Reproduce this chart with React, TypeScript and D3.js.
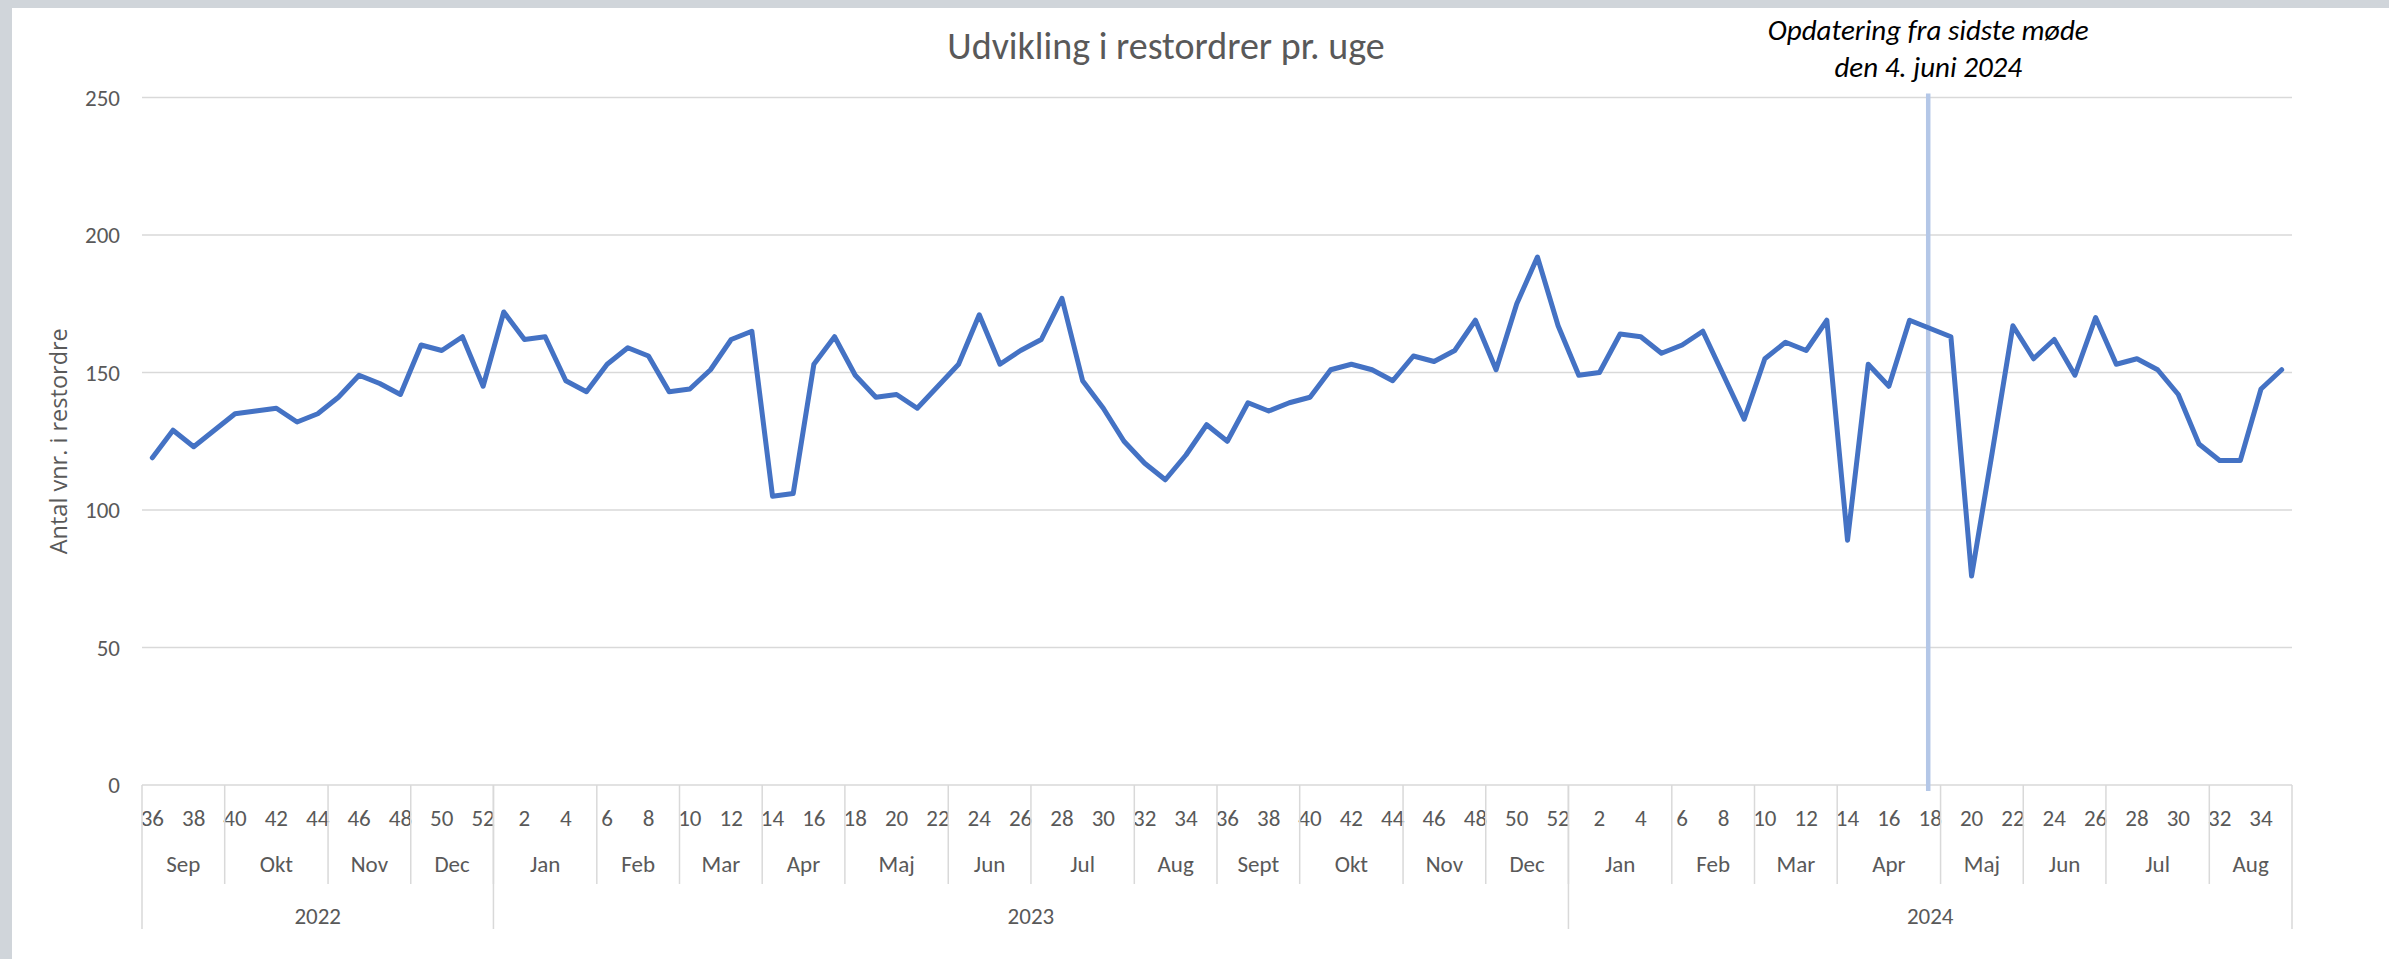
import * as d3 from 'd3'
import React, {useEffect, useRef} from 'react'

// weekly data, week 36 2022 -> week 35 2024
const yearLabels = ['2022', '2023', '2024']
const yearWeekCounts = [17, 52, 35]

const monthLabels = ['Sep', 'Okt', 'Nov', 'Dec',
    'Jan', 'Feb', 'Mar', 'Apr', 'Maj', 'Jun', 'Jul', 'Aug', 'Sept', 'Okt', 'Nov', 'Dec',
    'Jan', 'Feb', 'Mar', 'Apr', 'Maj', 'Jun', 'Jul', 'Aug']
const monthWeekCounts = [4, 5, 4, 4,
    5, 4, 4, 4, 5, 4, 5, 4, 4, 5, 4, 4,
    5, 4, 4, 5, 4, 4, 5, 4]

const weekNumbers = [
    36, 37, 38, 39, 40, 41, 42, 43, 44, 45, 46, 47, 48, 49, 50, 51, 52,
    1, 2, 3, 4, 5, 6, 7, 8, 9, 10, 11, 12, 13, 14, 15, 16, 17, 18, 19, 20, 21, 22, 23, 24, 25, 26,
    27, 28, 29, 30, 31, 32, 33, 34, 35, 36, 37, 38, 39, 40, 41, 42, 43, 44, 45, 46, 47, 48, 49, 50, 51, 52,
    1, 2, 3, 4, 5, 6, 7, 8, 9, 10, 11, 12, 13, 14, 15, 16, 17, 18, 19, 20, 21, 22, 23, 24, 25, 26,
    27, 28, 29, 30, 31, 32, 33, 34, 35]

const restordrer = [
    119, 129, 123, 129, 135, 136, 137, 132, 135, 141, 149, 146, 142, 160, 158, 163, 145,
    172, 162, 163, 147, 143, 153, 159, 156, 143, 144, 151, 162, 165, 105, 106, 153, 163, 149, 141, 142, 137, 145,
    153, 171, 153, 158, 162, 177, 147, 137, 125, 117, 111, 120, 131, 125, 139, 136, 139, 141, 151, 153, 151, 147,
    156, 154, 158, 169, 151, 175, 192, 167,
    149, 150, 164, 163, 157, 160, 165, 149, 133, 155, 161, 158, 169, 89, 153, 145, 169, 166, 163, 76, 121, 167,
    155, 162, 149, 170, 153, 155, 151, 142, 124, 118, 118, 144, 151]

const yTicks = [0, 50, 100, 150, 200, 250]
const markerIndex = 86 // uge 18 2024

const FONT = 'Carlito, Calibri, Lato, sans-serif'
const GREY_TEXT = '#595959'
const GRID = '#d9d9d9'

function Chart() {
    const ref = useRef(null)

    useEffect(() => {
        const width = 2389, height = 959
        const margin = {top: 97.5, right: 97, bottom: 174, left: 142}
        const innerBottom = height - margin.bottom

        const root = d3.select(ref.current)
        root.selectAll('*').remove()
        const svg = root.append('svg')
            .attr('width', width)
            .attr('height', height)
            .style('position', 'absolute')
            .style('left', 0)
            .style('top', 0)

        // frame
        svg.append('rect').attr('width', width).attr('height', height).attr('fill', '#d0d5da')
        svg.append('rect').attr('x', 12).attr('y', 8).attr('width', width - 12).attr('height', height - 8).attr('fill', '#fff')

        const x = d3.scaleBand()
            .domain(d3.range(restordrer.length))
            .range([margin.left, width - margin.right])
            .paddingInner(0).paddingOuter(0)
        const cx = (i) => x(i) + x.bandwidth() / 2

        const y = d3.scaleLinear().domain([0, 250]).range([innerBottom, margin.top])

        // gridlines
        svg.append('g').selectAll('line')
            .data(yTicks)
            .enter().append('line')
            .attr('x1', margin.left).attr('x2', width - margin.right)
            .attr('y1', d => y(d)).attr('y2', d => y(d))
            .attr('stroke', GRID).attr('stroke-width', 1.5)

        // y labels
        svg.append('g').selectAll('text')
            .data(yTicks)
            .enter().append('text')
            .attr('x', margin.left - 22)
            .attr('y', d => y(d))
            .attr('dominant-baseline', 'central')
            .attr('text-anchor', 'end')
            .attr('font-family', FONT).attr('font-size', 23)
            .attr('fill', GREY_TEXT)
            .text(d => d)

        svg.append('text')
            .attr('transform', 'translate(58,' + y(125) + ')rotate(-90)')
            .attr('text-anchor', 'middle')
            .attr('dominant-baseline', 'central')
            .attr('font-family', '"Open Sans", sans-serif').attr('font-size', 23.5)
            .attr('fill', GREY_TEXT)
            .text('Antal vnr. i restordre')

        // week labels (every second week)
        svg.append('g').selectAll('text')
            .data(weekNumbers.map((w, i) => ({w, i})).filter(d => d.i % 2 === 0))
            .enter().append('text')
            .attr('x', d => cx(d.i))
            .attr('y', innerBottom + 33)
            .attr('text-anchor', 'middle')
            .attr('dominant-baseline', 'central')
            .attr('font-family', FONT).attr('font-size', 23)
            .attr('fill', GREY_TEXT)
            .text(d => d.w)

        // month groups
        const monthStarts = d3.cumsum([0, ...monthWeekCounts])
        const months = monthLabels.map((m, k) => ({m, start: monthStarts[k], end: monthStarts[k + 1]}))
        const edge = (i) => i >= restordrer.length ? x.range()[1] : x(i)

        svg.append('g').selectAll('text')
            .data(months)
            .enter().append('text')
            .attr('x', d => (edge(d.start) + edge(d.end)) / 2)
            .attr('y', innerBottom + 79)
            .attr('text-anchor', 'middle')
            .attr('dominant-baseline', 'central')
            .attr('font-family', FONT).attr('font-size', 23)
            .attr('fill', GREY_TEXT)
            .text(d => d.m)

        svg.append('g').selectAll('line')
            .data(months.slice(1))
            .enter().append('line')
            .attr('x1', d => edge(d.start)).attr('x2', d => edge(d.start))
            .attr('y1', innerBottom).attr('y2', innerBottom + 99)
            .attr('stroke', GRID).attr('stroke-width', 1.5)

        // year groups
        const yearStarts = d3.cumsum([0, ...yearWeekCounts])
        const years = yearLabels.map((yl, k) => ({yl, start: yearStarts[k], end: yearStarts[k + 1]}))

        svg.append('g').selectAll('text')
            .data(years)
            .enter().append('text')
            .attr('x', d => (edge(d.start) + edge(d.end)) / 2)
            .attr('y', innerBottom + 131)
            .attr('text-anchor', 'middle')
            .attr('dominant-baseline', 'central')
            .attr('font-family', FONT).attr('font-size', 23)
            .attr('fill', GREY_TEXT)
            .text(d => d.yl)

        svg.append('g').selectAll('line')
            .data([0, ...yearStarts.slice(1)])
            .enter().append('line')
            .attr('x1', d => edge(d)).attr('x2', d => edge(d))
            .attr('y1', innerBottom).attr('y2', innerBottom + 144)
            .attr('stroke', GRID).attr('stroke-width', 1.5)

        // marker line for last meeting
        const mx = cx(markerIndex) - 2
        svg.append('line')
            .attr('x1', mx).attr('x2', mx)
            .attr('y1', y(250) - 4).attr('y2', innerBottom + 6)
            .attr('stroke', '#b4c7e7').attr('stroke-width', 4.5)

        // series
        const line = d3.line()
            .x((d, i) => cx(i))
            .y(d => y(d))
        svg.append('path')
            .datum(restordrer)
            .attr('d', line)
            .attr('fill', 'none')
            .attr('stroke', '#4472c4')
            .attr('stroke-width', 5)
            .attr('stroke-linejoin', 'round')
            .attr('stroke-linecap', 'round')

        // title
        svg.append('text')
            .attr('x', 1166).attr('y', 46)
            .attr('text-anchor', 'middle')
            .attr('dominant-baseline', 'central')
            .attr('font-family', FONT).attr('font-size', 38)
            .attr('fill', GREY_TEXT)
            .text('Udvikling i restordrer pr. uge')

        const note = svg.append('text')
            .attr('text-anchor', 'middle')
            .attr('font-family', FONT).attr('font-size', 29)
            .attr('font-style', 'italic')
            .attr('fill', '#000')
        note.append('tspan').attr('x', mx).attr('y', 40).text('Opdatering fra sidste møde')
        note.append('tspan').attr('x', mx).attr('y', 77).text('den 4. juni 2024')
    }, [])

    return <div ref={ref}></div>
}

export default function App() {
    return <Chart />
}
